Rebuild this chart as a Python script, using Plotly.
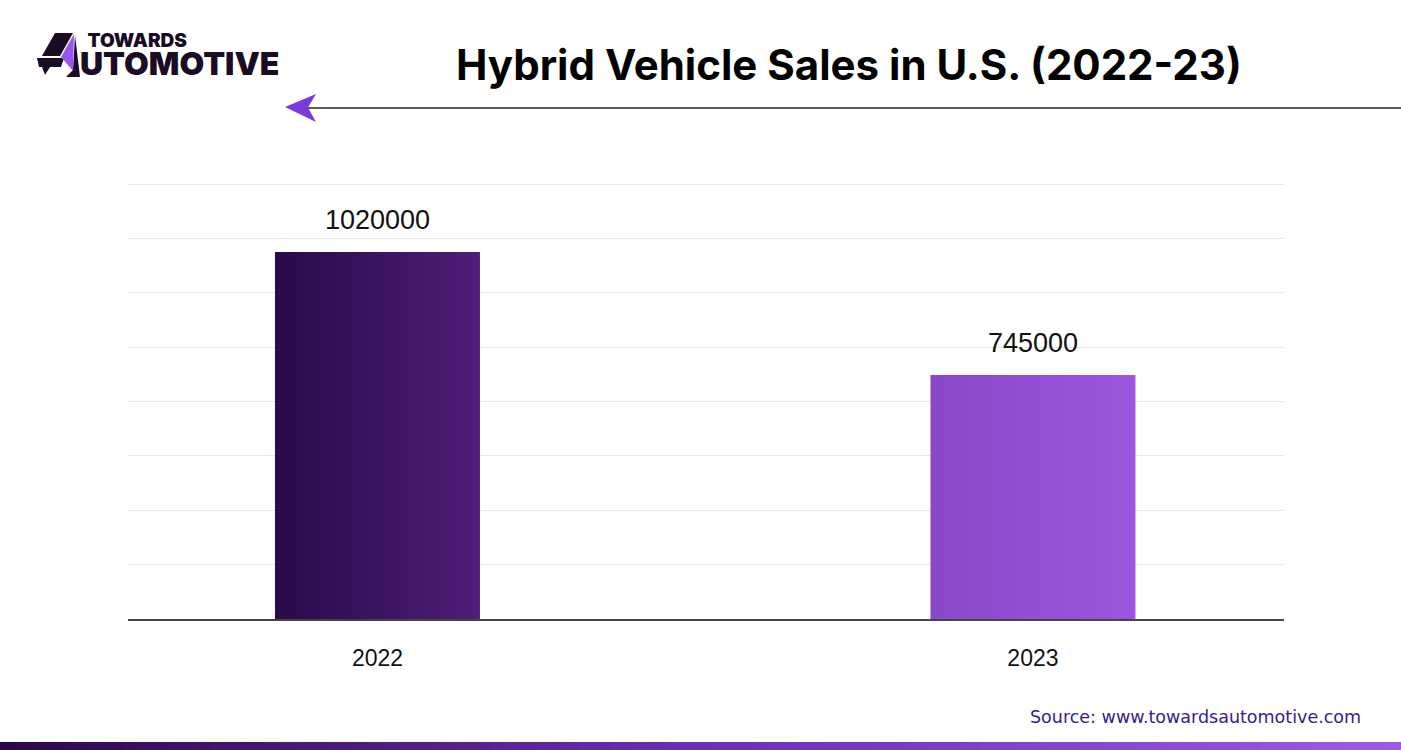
import plotly.graph_objects as go

# ---- data ----
years = ["2022", "2023"]
sales = [1020000, 745000]
bar_colors = [("#290a4a", "#4e1e78"), ("#8a47c8", "#9d56df")]

W, H = 1401, 750
L, R, T, B = 128, 117, 182, 131
PW, PH = W - L - R, H - T - B

def px(x, y):
    return (x - L) / PW, 1 - (y - T) / PH

fig = go.Figure()

bw = 0.3127
for i, (yr, v) in enumerate(zip(years, sales)):
    c1, c2 = bar_colors[i]
    fig.add_trace(go.Scatter(
        x=[i - bw / 2, i + bw / 2, i + bw / 2, i - bw / 2, i - bw / 2],
        y=[0, 0, v, v, 0],
        mode="lines", fill="toself", line=dict(width=0),
        fillgradient=dict(type="horizontal", colorscale=[[0, c1], [1, c2]]),
        hoverinfo="skip", showlegend=False))
    fig.add_annotation(x=i, y=v, text=str(v), showarrow=False, yanchor="middle",
                       yshift=32, font=dict(family="Liberation Sans", size=27, color="#111"))

shapes = []
# title underline and arrow
x0, y0 = px(307, 108); x1, _ = px(1401, 108)
shapes.append(dict(type="line", xref="paper", yref="paper", x0=x0, y0=y0, x1=x1, y1=y0,
                   line=dict(color="#222", width=1.5)))

def path(points):
    s = ""
    for k, (a, b) in enumerate(points):
        p = px(a, b)
        s += ("M" if k == 0 else "L") + f"{p[0]:.5f},{p[1]:.5f} "
    return s + "Z"

shapes.append(dict(type="path", xref="paper", yref="paper",
                   path=path([(285, 107), (316, 94), (308, 107.5), (316, 122)]),
                   fillcolor="#7b3bd9", line=dict(width=0)))
# logo A
shapes.append(dict(type="path", xref="paper", yref="paper",
                   path=path([(55, 33), (73, 33), (60, 56), (42, 56)]),
                   fillcolor="#1a0c25", line=dict(width=0)))
shapes.append(dict(type="path", xref="paper", yref="paper",
                   path=path([(37, 58), (64, 58), (61, 67), (50, 67), (45, 75), (42, 67), (39, 67)]),
                   fillcolor="#1a0c25", line=dict(width=0)))
shapes.append(dict(type="path", xref="paper", yref="paper",
                   path=path([(75, 35), (80, 77), (66, 77), (73, 70)]),
                   fillcolor="#1a0c25", line=dict(width=0)))
shapes.append(dict(type="path", xref="paper", yref="paper",
                   path=path([(74, 34), (61, 57), (73, 71)]),
                   fillcolor="#9b55f0", line=dict(width=0)))

# bottom gradient bar
N = 80
def lerp(c1, c2, t):
    a = [int(c1[i:i + 2], 16) for i in (1, 3, 5)]
    b = [int(c2[i:i + 2], 16) for i in (1, 3, 5)]
    return "#" + "".join(f"{round(a[j] + (b[j] - a[j]) * t):02x}" for j in range(3))
for k in range(N):
    t = k / (N - 1)
    col = lerp("#2a0a4c", "#6b30b0", t * 2) if t < 0.5 else lerp("#6b30b0", "#a05ae0", (t - 0.5) * 2)
    xa, ya = px(W * k / N, 742)
    xb, yb = px(W * (k + 1) / N + 1, 750)
    shapes.append(dict(type="rect", xref="paper", yref="paper", x0=xa, y0=yb, x1=xb, y1=ya,
                       fillcolor=col, line=dict(width=0), layer="above"))

ann = []
tx, ty = px(849, 65)
ann.append(dict(xref="paper", yref="paper", x=tx, y=ty, text="<b>Hybrid Vehicle Sales in U.S. (2022-23)</b>",
                showarrow=False, xanchor="center", yanchor="middle",
                font=dict(family="Inter", size=42, color="#000")))
sx, sy = px(1363, 717)
ann.append(dict(xref="paper", yref="paper", x=sx, y=sy, text="Source: www.towardsautomotive.com",
                showarrow=False, xanchor="right", yanchor="middle",
                font=dict(family="DejaVu Sans", size=17.5, color="#3b1a8f")))
lx, ly = px(78, 56)
ann.append(dict(xref="paper", yref="paper", x=lx, y=ly,
                text="<span style='font-size:19px'>&nbsp;&nbsp;TOWARDS</span><br><span style='font-size:32px'>UTOMOTIVE</span>",
                showarrow=False, xanchor="left", yanchor="middle", align="left",
                font=dict(family="Inter", size=21.5, color="#1a0c25", weight=900)))
for a in ann:
    fig.add_annotation(**a)

fig.update_layout(
    width=W, height=H, margin=dict(l=L, r=R, t=T, b=B),
    plot_bgcolor="white", paper_bgcolor="white", shapes=shapes,
    xaxis=dict(range=[-0.3806, 1.383], tickvals=list(range(len(years))), ticktext=years,
               showgrid=False, zeroline=False, showline=True, linecolor="#444", linewidth=1.5,
               ticks="outside", ticklen=18, tickcolor="rgba(0,0,0,0)",
               tickfont=dict(family="Liberation Sans", size=23, color="#111"), fixedrange=True),
    yaxis=dict(range=[199000, 1176474], tick0=199000, dtick=121625, showticklabels=False,
               showgrid=True, gridcolor="#e6e6e6", gridwidth=1, zeroline=False, fixedrange=True),
)
fig.write_html("out.html")
